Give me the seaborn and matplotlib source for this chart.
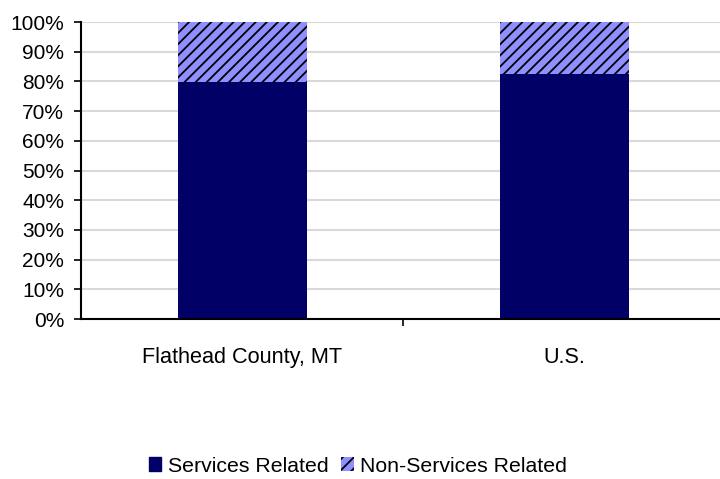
import pandas as pd
import matplotlib
matplotlib.use("Agg")
import matplotlib.pyplot as plt
import seaborn as sns
from matplotlib.patches import Patch

# data (percent of total)
regions = ["Flathead County, MT", "U.S."]
services = [79.8, 82.5]
non_services = [20.2, 17.5]

df = pd.DataFrame({"Region": regions, "Services": services, "NonServices": non_services})
df["Total"] = df["Services"] + df["NonServices"]

sns.set_style("white", {"text.color": "black", "xtick.color": "black",
                        "ytick.color": "black", "axes.labelcolor": "black"})
plt.rcParams["font.family"] = ["Liberation Sans", "DejaVu Sans"]
plt.rcParams["hatch.linewidth"] = 1.3

navy = "#000066"
hatch_face = "#8F8FFF"

fig = plt.figure(figsize=(7.2, 4.79), dpi=100)
ax = fig.add_axes([0.1125, 0.334, 0.895, 0.62])

# hatched full bar underneath, solid services bar on top
sns.barplot(data=df, x="Region", y="Total", color=hatch_face, width=0.4,
            edgecolor="black", linewidth=0, hatch="///", saturation=1, ax=ax)
sns.barplot(data=df, x="Region", y="Services", color=navy, width=0.4,
            linewidth=0, saturation=1, ax=ax)

ax.set_ylim(0, 100)
ax.set_xlim(-0.5, 1.5)
ax.set_yticks(range(0, 101, 10))
ax.set_yticklabels([f"{v}%" for v in range(0, 101, 10)])
ax.set_xticks([0.5], minor=True)
ax.set_xticks([0, 1])
ax.set_xticklabels(regions)
ax.set_xlabel("")
ax.set_ylabel("")

ax.yaxis.grid(True, color="#d9d9d9", linewidth=1.5)
ax.set_axisbelow(True)
for side in ["top", "right"]:
    ax.spines[side].set_visible(False)
for side in ["left", "bottom"]:
    ax.spines[side].set_color("black")
    ax.spines[side].set_linewidth(1.5)

ax.tick_params(axis="y", which="major", left=True, length=5, width=1.2,
               color="black", labelcolor="black", labelsize=15, pad=7)
ax.tick_params(axis="x", which="major", bottom=False, labelcolor="black",
               labelsize=15.6, pad=17)
ax.tick_params(axis="x", which="minor", bottom=True, length=5, width=1.2,
               color="black")

handles = [Patch(facecolor=navy, edgecolor=navy, label="Services Related"),
           Patch(facecolor=hatch_face, edgecolor="black", hatch="///",
                 linewidth=0, label="Non-Services Related")]
fig.legend(handles=handles, loc="center", bbox_to_anchor=(0.497, 0.027),
           ncol=2, frameon=False, fontsize=15.3, handlelength=0.6,
           handleheight=0.6, handletextpad=0.3, columnspacing=0.6,
           labelcolor="black")

fig.savefig("out.png", dpi=100)
